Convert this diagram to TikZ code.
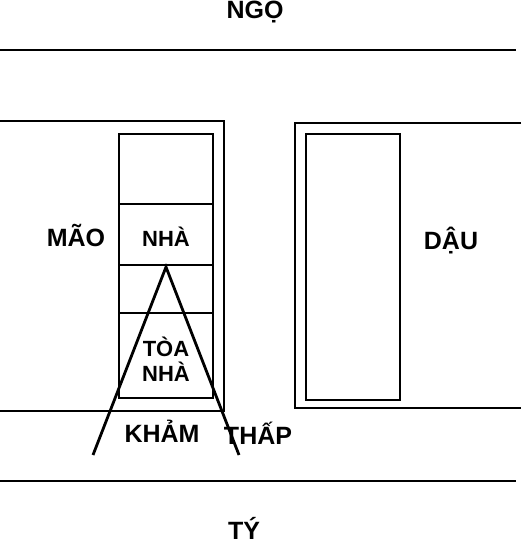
\documentclass[tikz,border=0pt]{standalone}
\usepackage{fontspec}
\setmainfont{Liberation Sans}
\begin{document}
\begin{tikzpicture}[x=1pt,y=-1pt,line width=2.8pt,
  lbl/.style={font=\fontsize{25}{28}\selectfont\bfseries,inner sep=0pt,anchor=base},
  inlbl/.style={font=\fontsize{22}{25}\selectfont\bfseries,inner sep=0pt,align=center}]
\useasboundingbox (0,0) rectangle (521,545);
% streets
\draw (0,50) -- (516,50);
\draw (0,481) -- (516,481);
% left block
\draw (0,121) -- (224,121) -- (224,411) -- (0,411);
% building column
\draw (119,134) rectangle (213,398);
\draw (119,204) -- (213,204);
\draw (119,265) -- (213,265);
\draw (119,313) -- (213,313);
% right block
\draw (521,123) -- (295,123) -- (295,408) -- (521,408);
\draw (306,134) rectangle (400,400);
% view lines
\coordinate (apex) at (166,267);
\coordinate (endL) at (93,455);
\coordinate (endR) at (239,455);
\draw (endL) -- (apex) -- (endR);
% labels
\node[lbl] (ngo) at (255,19) {NGỌ};
\node[lbl] (mao) at (76,246) {MÃO};
\node[lbl,font=\fontsize{22}{25}\selectfont\bfseries] (nha) at (166,246) {NHÀ};
\node[inlbl] (toa) at (166,359) {TÒA\\NHÀ};
\node[lbl] (dau) at (451,249) {DẬU};
\node[lbl] (kham) at (162,442) {KHẢM};
\node[lbl] (thap) at (258,444) {THẤP};
\node[lbl] (ty) at (244,539) {TÝ};
\end{tikzpicture}
\end{document}
